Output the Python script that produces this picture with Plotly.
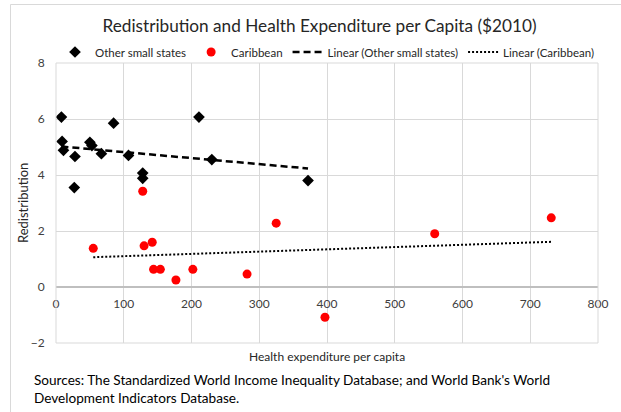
import numpy as np
import plotly.graph_objects as go

# Data
other_x = [8, 9, 11, 27, 28, 50, 53, 67, 85, 107, 128, 128, 211, 230, 372]
other_y = [6.07, 5.20, 4.88, 3.55, 4.66, 5.17, 5.05, 4.76, 5.85, 4.70, 4.07, 3.88, 6.07, 4.55, 3.80]

carib_x = [55, 128, 130, 142, 144, 154, 177, 202, 282, 325, 397, 559, 731]
carib_y = [1.38, 3.42, 1.47, 1.60, 0.63, 0.63, 0.25, 0.63, 0.46, 2.28, -1.08, 1.90, 2.47]

x_ticks = [0, 100, 200, 300, 400, 500, 600, 700, 800]
y_ticks = [-2, 0, 2, 4, 6, 8]

title_text = "Redistribution and Health Expenditure per Capita ($2010)"
x_title = "Health expenditure per capita"
y_title = "Redistribution"
source_text = ("Sources: The Standardized World Income Inequality Database; and World Bank's World"
               "<br>Development Indicators Database.")

FONT = "Lato, Liberation Sans, sans-serif"
W, H = 621, 412
L, R, T, B = 56, 598, 63, 343  # plot area pixel edges


def px_x(p):
    return (p - L) / (R - L)


def px_y(p):
    return (B - p) / (B - T)


def trend(xs, ys):
    slope, icpt = np.polyfit(xs, ys, 1)
    xl = [min(xs), max(xs)]
    return xl, [slope * v + icpt for v in xl]


fig = go.Figure()
fig.add_trace(go.Scatter(x=other_x, y=other_y, mode="markers", name="Other small states",
                         marker=dict(symbol="diamond", color="black", size=9)))
fig.add_trace(go.Scatter(x=carib_x, y=carib_y, mode="markers", name="Caribbean",
                         marker=dict(symbol="circle", color="#ff0000", size=9)))
tx, ty = trend(other_x, other_y)
fig.add_trace(go.Scatter(x=tx, y=ty, mode="lines", name="Linear (Other small states)",
                         line=dict(color="black", width=2.5, dash="7px,4px")))
tx, ty = trend(carib_x, carib_y)
fig.add_trace(go.Scatter(x=tx, y=ty, mode="lines", name="Linear (Caribbean)",
                         line=dict(color="black", width=2, dash="2px,2px")))

grid = "#d9d9d9"
fig.update_layout(
    width=W, height=H,
    margin=dict(l=L, r=W - R, t=T, b=H - B, autoexpand=False),
    paper_bgcolor="white", plot_bgcolor="white",
    font=dict(family=FONT, size=12, color="#404040"),
    title=dict(text=title_text, x=319.5 / W, xanchor="center", y=(H - 26) / H, yanchor="middle",
               yref="container", font=dict(family=FONT, size=17.2, color="#262626")),
    showlegend=True,
    legend=dict(orientation="h", x=px_x(55), xanchor="left", y=px_y(52), yanchor="middle",
                font=dict(family=FONT, size=11.5, color="#262626"), bgcolor="rgba(0,0,0,0)",
                traceorder="normal", itemwidth=30, tracegroupgap=0),
    xaxis=dict(range=[0, 800], tickvals=x_ticks, showgrid=True, gridcolor=grid, gridwidth=1,
               zeroline=False, showline=False, anchor="free", position=0.2,
               ticks="outside", ticklen=6, tickcolor="rgba(0,0,0,0)",
               tickfont=dict(family=FONT, size=12, color="#404040")),
    yaxis=dict(range=[-2, 8], tickvals=y_ticks, showgrid=True, gridcolor=grid, gridwidth=1,
               zeroline=True, zerolinecolor="#bfbfbf", zerolinewidth=1.5,
               ticks="outside", ticklen=8, tickcolor="rgba(0,0,0,0)",
               tickfont=dict(family=FONT, size=12, color="#404040")),
    shapes=[
        dict(type="rect", xref="paper", yref="paper", x0=0, x1=1, y0=0, y1=1,
             line=dict(color=grid, width=1)),
        dict(type="line", xref="paper", yref="paper", x0=px_x(10.5), x1=px_x(621), y0=px_y(4.5), y1=px_y(4.5),
             line=dict(color=grid, width=1)),
        dict(type="line", xref="paper", yref="paper", x0=px_x(10.5), x1=px_x(10.5), y0=px_y(4.5), y1=px_y(412),
             line=dict(color=grid, width=1)),
    ],
    annotations=[
        dict(text=x_title, xref="paper", yref="paper", x=0.5, y=px_y(356), xanchor="center",
             yanchor="middle", showarrow=False, font=dict(family=FONT, size=12, color="#262626")),
        dict(text=y_title, xref="paper", yref="paper", x=px_x(23), y=0.5, xanchor="center",
             yanchor="middle", textangle=-90, showarrow=False,
             font=dict(family=FONT, size=13, color="#262626")),
        dict(text=source_text, xref="paper", yref="paper", x=px_x(32), y=px_y(389), xanchor="left",
             yanchor="middle", align="left", showarrow=False,
             font=dict(family=FONT, size=13.6, color="#000000")),
    ],
)

fig.write_html("out.html", config={"displayModeBar": False},
               post_script="document.body.style.margin='0';")
